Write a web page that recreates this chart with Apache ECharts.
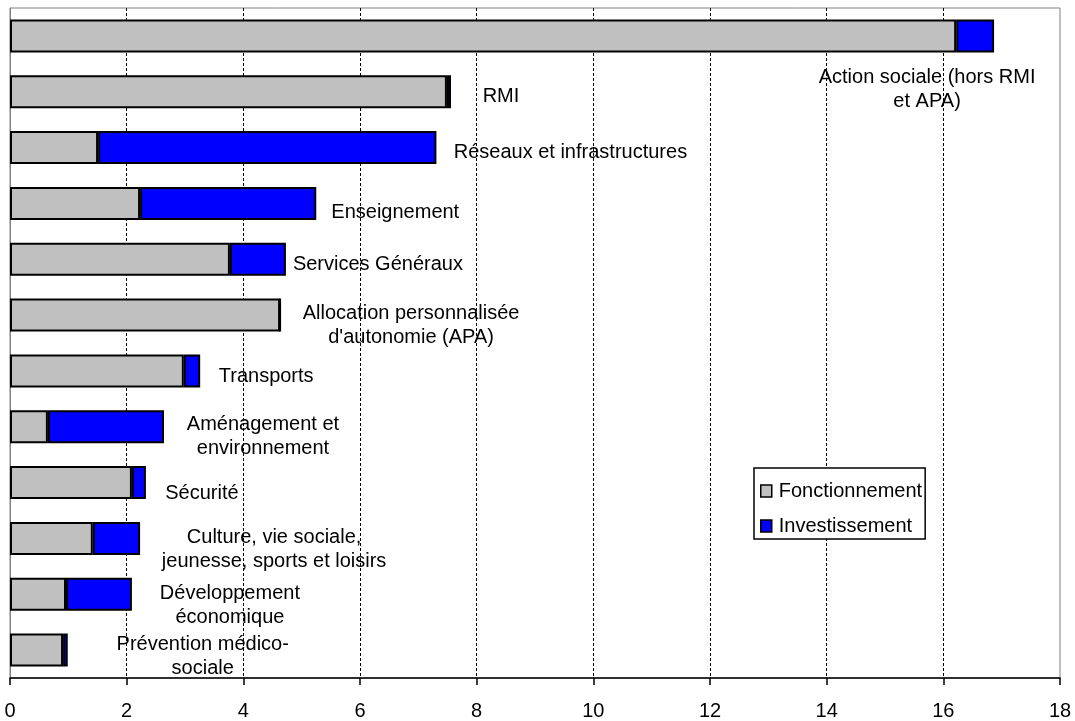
<!DOCTYPE html>
<html>
<head>
<meta charset="utf-8">
<script src="https://cdn.jsdelivr.net/npm/echarts@6/dist/echarts.min.js"></script>
<style>
  html, body { margin: 0; padding: 0; background: #fff; }
  #chart { width: 1075px; height: 721px; }
</style>
</head>
<body>
<div id="chart"></div>
<script>
// Categories (top to bottom)
const categories = [
  "Action sociale (hors RMI\net APA)",
  "RMI",
  "Réseaux et infrastructures",
  "Enseignement",
  "Services Généraux",
  "Allocation personnalisée\nd'autonomie (APA)",
  "Transports",
  "Aménagement et\nenvironnement",
  "Sécurité",
  "Culture, vie sociale,\njeunesse, sports et loisirs",
  "Développement\néconomique",
  "Prévention médico-\nsociale"
];
const fonctionnement = [16.22, 7.49, 1.51, 2.23, 3.77, 4.63, 2.98, 0.65, 2.09, 1.42, 0.96, 0.91];
const investissement = [0.65, 0.07, 5.80, 3.02, 0.96, 0.00, 0.28, 1.99, 0.24, 0.81, 1.13, 0.08];
const xTicks = { min: 0, max: 18, interval: 2 };

// label placement (styling only)
const labelOffsets = [
  [-72, 54], [45, 5], [129, 5], [74, 9], [87, 5], [125, 10],
  [61, 6], [94, 10], [51, 11], [129, 11], [93, 11], [130, 6]
];

const FONT = "'Liberation Sans', Arial, sans-serif";
const chart = echarts.init(document.getElementById('chart'));

chart.setOption({
  animation: false,
  backgroundColor: '#fff',
  textStyle: { fontFamily: FONT },
  grid: {
    left: 10, right: 15, top: 8, bottom: 41,
    show: true, borderColor: '#808080', borderWidth: 1, backgroundColor: 'transparent'
  },
  legend: {
    orient: 'vertical',
    left: 754, top: 468,
    padding: [11, 3, 1, 6],
    itemGap: 11,
    itemWidth: 11, itemHeight: 12,
    borderColor: '#000', borderWidth: 1.5,
    backgroundColor: '#fff',
    textStyle: { fontFamily: FONT, fontSize: 20, color: '#000', lineHeight: 22, padding: [2, 0, 0, 2] },
    data: [
      { name: 'Fonctionnement', icon: 'rect', itemStyle: { color: '#C0C0C0', borderColor: '#000', borderWidth: 1.5 } },
      { name: 'Investissement', icon: 'rect', itemStyle: { color: '#0000FF', borderColor: '#000', borderWidth: 1.5 } }
    ]
  },
  xAxis: {
    type: 'value',
    min: xTicks.min, max: xTicks.max, interval: xTicks.interval,
    axisLine: { show: true, lineStyle: { color: '#000', width: 1.5 } },
    axisTick: { show: true, length: 7, lineStyle: { color: '#000', width: 1.5 } },
    axisLabel: { fontFamily: FONT, fontSize: 20, color: '#000', margin: 23 },
    splitLine: { show: true, showMinLine: false, showMaxLine: false, lineStyle: { color: '#000', width: 1, type: [3, 2] } }
  },
  yAxis: {
    type: 'category',
    inverse: true,
    data: categories,
    axisLine: { show: true, lineStyle: { color: '#808080', width: 1 } },
    axisTick: { show: false },
    axisLabel: { show: false },
    splitLine: { show: false }
  },
  series: [
    {
      name: 'Fonctionnement',
      type: 'bar',
      stack: 'total',
      barWidth: 33,
      data: fonctionnement,
      itemStyle: { color: '#C0C0C0', borderColor: '#000', borderWidth: 2 }
    },
    {
      name: 'Investissement',
      type: 'bar',
      stack: 'total',
      barWidth: 33,
      data: investissement.map((v, i) => ({
        value: v,
        label: { offset: labelOffsets[i] }
      })),
      itemStyle: { color: '#0000FF', borderColor: '#000', borderWidth: 2 },
      label: {
        show: true,
        position: 'right',
        align: 'center',
        verticalAlign: 'middle',
        fontFamily: FONT,
        fontSize: 20,
        lineHeight: 24,
        color: '#000',
        formatter: p => categories[p.dataIndex]
      }
    }
  ]
});
</script>
</body>
</html>
